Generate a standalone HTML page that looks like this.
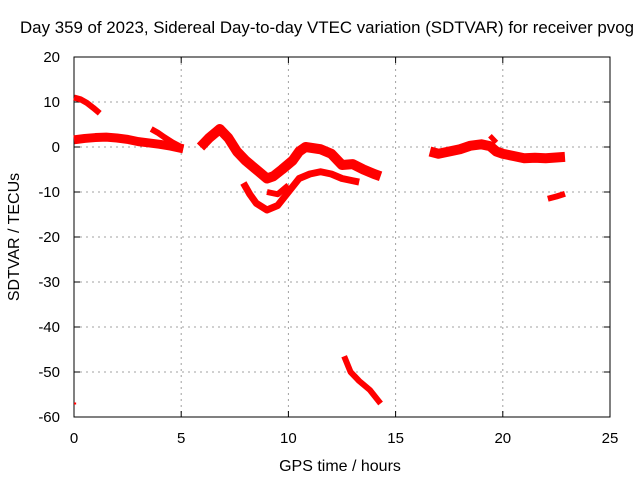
<!DOCTYPE html>
<html><head><meta charset="utf-8"><style>
body{margin:0;background:#fff}
svg{display:block;font-family:"Liberation Sans",sans-serif;font-size:15px}
</style></head><body>
<svg id="chart" width="640" height="480">
<text x="20" y="33" font-size="16.5" textLength="614" lengthAdjust="spacingAndGlyphs">Day 359 of 2023, Sidereal Day-to-day VTEC variation (SDTVAR) for receiver pvog</text>
<g id="grid"></g>
<rect x="74" y="57" width="536" height="360" fill="none" stroke="#000" stroke-width="1"/>
<g id="ticks"></g>
<g id="series"></g>
<text x="340" y="471" font-size="16" text-anchor="middle">GPS time / hours</text>
<text transform="translate(19,237) rotate(-90)" font-size="16" text-anchor="middle">SDTVAR / TECUs</text>
</svg>
<script>
const xTicks=[0,5,10,15,20,25];
const yTicks=[20,10,0,-10,-20,-30,-40,-50,-60];
const segA_h=[0,0.3,0.6,0.9,1.2];
const segA_v=[11,10.6,9.8,8.7,7.5];
const segB_h=[0,0.5,1,1.5,2,2.5,3,3.5,4,4.5,5.1];
const segB_v=[1.6,1.9,2.1,2.2,2.0,1.7,1.2,0.9,0.6,0.2,-0.4];
const segC_h=[3.6,3.9,4.2,4.6,5.0];
const segC_v=[4,3.2,2.2,1,0];
const segD_h=[5.9,6.3,6.8,7.2,7.6,8,8.5,9,9.3,9.7,10.2,10.5,10.8,11.5,12,12.5,13,13.5,14,14.3];
const segD_v=[0,2,4,2,-1,-3,-5,-7,-6.5,-5,-3,-1,0,-0.5,-1.5,-4,-3.8,-5,-6,-6.5];
const segE_h=[7.9,8.2,8.5,9,9.5,10,10.5,11,11.5,12,12.5,13,13.3];
const segE_v=[-8,-10.5,-12.5,-14,-13,-10,-7,-6,-5.5,-6,-7,-7.5,-7.8];
const segF_h=[9,9.5,10];
const segF_v=[-10,-10.5,-8.5];
const segG_h=[12.6,12.9,13.3,13.8,14.3];
const segG_v=[-46.5,-50,-52,-54,-57];
const segH_h=[0,0.1];
const segH_v=[-57,-57];
const segI_h=[16.6,17,17.5,18,18.5,19,19.4,19.7,20,20.5,21,21.5,22,22.9];
const segI_v=[-1,-1.5,-1,-0.5,0.3,0.6,0.2,-1,-1.5,-2,-2.5,-2.4,-2.5,-2.2];
const segJ_h=[19.4,19.7];
const segJ_v=[2.5,1];
const segK_h=[22.1,22.5,22.9];
const segK_v=[-11.5,-11,-10.4];
const segs=[[segA_h,segA_v,6],[segB_h,segB_v,9],[segC_h,segC_v,6],[segD_h,segD_v,10],[segE_h,segE_v,7],[segF_h,segF_v,6],[segG_h,segG_v,6],[segH_h,segH_v,2],[segI_h,segI_v,10],[segJ_h,segJ_v,5],[segK_h,segK_v,6]];
const X=h=>74+h*536/25;
const Y=v=>57+(20-v)*360/80;
const NS="http://www.w3.org/2000/svg";
const grid=document.getElementById('grid'),ticks=document.getElementById('ticks'),ser=document.getElementById('series');
function mk(tag,attrs,parent){const e=document.createElementNS(NS,tag);for(const k in attrs)e.setAttribute(k,attrs[k]);parent.appendChild(e);return e;}
xTicks.forEach(t=>{
 const x=X(t);
 if(t>0&&t<25){const g=mk('line',{x1:x,x2:x,y1:57,y2:417,stroke:'#a0a0a0','stroke-dasharray':'2,4'},grid);
 
 }
 mk('line',{x1:x,x2:x,y1:417,y2:411,stroke:'#000'},ticks);
 mk('line',{x1:x,x2:x,y1:57,y2:63,stroke:'#000'},ticks);
 const l=mk('text',{x:x,y:443,'text-anchor':'middle'},ticks);l.textContent=t;
 
 
});
yTicks.forEach(t=>{
 const y=Y(t);
 if(t<20&&t>-60){const g=mk('line',{x1:74,x2:610,y1:y,y2:y,stroke:'#a0a0a0','stroke-dasharray':'2,4'},grid);
 
 }
 mk('line',{x1:74,x2:80,y1:y,y2:y,stroke:'#000'},ticks);
 mk('line',{x1:604,x2:610,y1:y,y2:y,stroke:'#000'},ticks);
 const l=mk('text',{x:60,y:y+5,'text-anchor':'end'},ticks);l.textContent=t;
 
 
});
segs.forEach(s=>{
 const pts=s[0].map((h,i)=>X(h)+','+Y(s[1][i])).join(' ');
 const p=mk('polyline',{points:pts,fill:'none',stroke:'#f00','stroke-width':s[2],'stroke-linejoin':'round'},ser);
 
 
});
</script>
</body></html>
